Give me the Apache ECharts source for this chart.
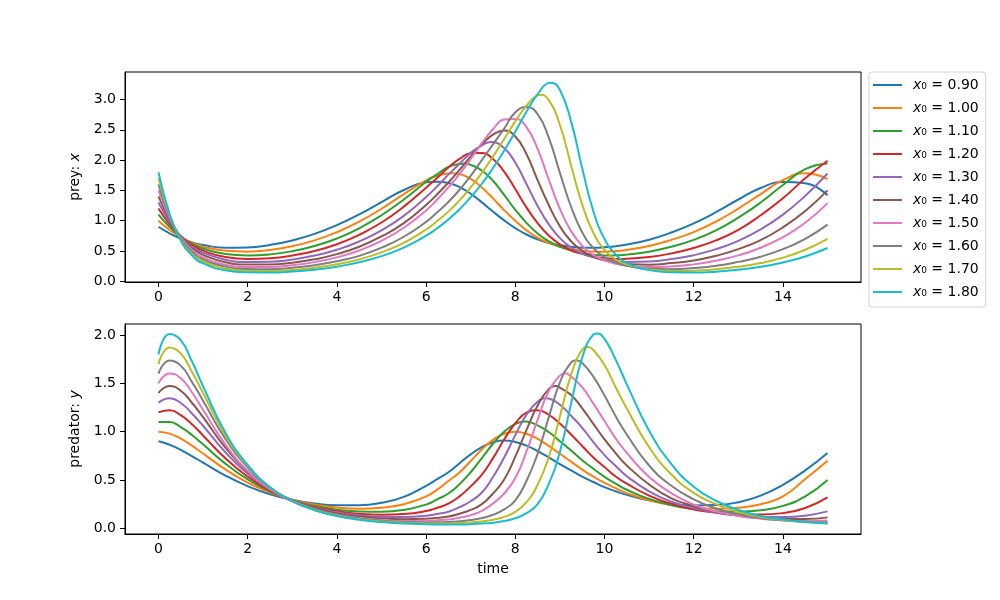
<!DOCTYPE html>
<html>
<head>
<meta charset="utf-8">
<title>Prey / predator</title>
<script src="https://cdn.jsdelivr.net/npm/echarts@6/dist/echarts.min.js"></script>
<style>
  body { margin: 0; background: #fff; }
  #chart { width: 1000px; height: 600px; }
</style>
</head>
<body>
<div id="chart"></div>
<script>
// sample times (denser around the peaks)
const times = [0, 0.25, 0.5, 0.75, 1, 1.5, 2, 2.5, 3, 3.5, 4, 4.5, 5, 5.5, 6, 6.25, 6.5, 6.75, 7, 7.25, 7.5, 7.75, 8,
  8.25, 8.5, 8.75, 9, 9.25, 9.5, 9.75, 10, 10.25, 10.5, 11, 11.5, 12, 12.5, 13, 13.5, 14, 14.5, 15];

const labels = ['0.90', '1.00', '1.10', '1.20', '1.30', '1.40', '1.50', '1.60', '1.70', '1.80'];
const colors = ['#1f77b4', '#ff7f0e', '#2ca02c', '#d62728', '#9467bd',
  '#8c564b', '#e377c2', '#7f7f7f', '#bcbd22', '#17becf'];

// prey x(t), one array per starting value
const prey090 = [0.900, 0.791, 0.705, 0.642, 0.598, 0.554, 0.558, 0.600, 0.674, 0.782, 0.927, 1.104, 1.306, 1.507, 1.635, 1.645, 1.624, 1.556, 1.445, 1.303, 1.151, 1.005, 0.877, 0.772, 0.692, 0.633, 0.593, 0.570, 0.554, 0.553, 0.561, 0.580, 0.607, 0.687, 0.805, 0.956, 1.140, 1.350, 1.540, 1.637, 1.617, 1.420];
const prey100 = [1.000, 0.847, 0.726, 0.636, 0.572, 0.502, 0.489, 0.516, 0.578, 0.675, 0.810, 0.983, 1.197, 1.440, 1.665, 1.745, 1.781, 1.769, 1.690, 1.549, 1.368, 1.175, 1.000, 0.842, 0.722, 0.633, 0.571, 0.533, 0.502, 0.492, 0.489, 0.500, 0.518, 0.584, 0.684, 0.812, 0.985, 1.200, 1.440, 1.670, 1.782, 1.685];
const prey110 = [1.100, 0.897, 0.738, 0.622, 0.540, 0.450, 0.426, 0.444, 0.497, 0.583, 0.707, 0.875, 1.090, 1.350, 1.642, 1.770, 1.890, 1.935, 1.922, 1.829, 1.660, 1.425, 1.180, 0.965, 0.790, 0.660, 0.567, 0.510, 0.462, 0.437, 0.427, 0.428, 0.440, 0.489, 0.570, 0.683, 0.840, 1.050, 1.300, 1.590, 1.850, 1.943];
const prey120 = [1.200, 0.941, 0.742, 0.601, 0.505, 0.400, 0.369, 0.380, 0.424, 0.500, 0.612, 0.766, 0.970, 1.232, 1.545, 1.710, 1.880, 2.020, 2.114, 2.117, 2.020, 1.810, 1.522, 1.220, 0.960, 0.755, 0.610, 0.510, 0.452, 0.402, 0.383, 0.369, 0.372, 0.400, 0.460, 0.550, 0.675, 0.850, 1.090, 1.370, 1.700, 1.990];
const prey130 = [1.300, 0.980, 0.741, 0.577, 0.474, 0.357, 0.319, 0.323, 0.360, 0.424, 0.520, 0.656, 0.840, 1.080, 1.390, 1.569, 1.760, 1.939, 2.120, 2.245, 2.298, 2.200, 1.960, 1.605, 1.244, 0.940, 0.712, 0.557, 0.457, 0.398, 0.350, 0.330, 0.318, 0.326, 0.366, 0.430, 0.530, 0.668, 0.855, 1.100, 1.410, 1.780];
const prey140 = [1.400, 1.019, 0.736, 0.549, 0.437, 0.314, 0.275, 0.276, 0.306, 0.362, 0.448, 0.570, 0.740, 0.960, 1.260, 1.438, 1.630, 1.838, 2.060, 2.260, 2.420, 2.489, 2.390, 2.100, 1.670, 1.260, 0.906, 0.660, 0.503, 0.406, 0.345, 0.303, 0.285, 0.274, 0.300, 0.342, 0.420, 0.530, 0.680, 0.890, 1.160, 1.500];
const prey150 = [1.500, 1.049, 0.724, 0.519, 0.394, 0.273, 0.235, 0.236, 0.264, 0.316, 0.395, 0.509, 0.667, 0.883, 1.170, 1.350, 1.550, 1.770, 2.020, 2.280, 2.510, 2.670, 2.681, 2.545, 2.186, 1.680, 1.197, 0.828, 0.586, 0.434, 0.350, 0.290, 0.259, 0.235, 0.244, 0.279, 0.340, 0.427, 0.554, 0.730, 0.965, 1.290];
const prey160 = [1.600, 1.075, 0.708, 0.487, 0.363, 0.242, 0.202, 0.200, 0.222, 0.264, 0.330, 0.420, 0.555, 0.735, 0.980, 1.140, 1.310, 1.510, 1.740, 2.000, 2.260, 2.520, 2.790, 2.878, 2.760, 2.370, 1.790, 1.230, 0.809, 0.549, 0.395, 0.310, 0.254, 0.205, 0.200, 0.218, 0.255, 0.320, 0.405, 0.530, 0.700, 0.935];
const prey170 = [1.700, 1.095, 0.688, 0.455, 0.330, 0.210, 0.173, 0.170, 0.188, 0.225, 0.281, 0.362, 0.478, 0.635, 0.855, 0.995, 1.150, 1.335, 1.550, 1.790, 2.060, 2.350, 2.640, 2.900, 3.070, 2.990, 2.580, 1.917, 1.266, 0.800, 0.519, 0.360, 0.279, 0.195, 0.171, 0.175, 0.198, 0.240, 0.300, 0.390, 0.520, 0.700];
const prey180 = [1.800, 1.113, 0.674, 0.428, 0.295, 0.181, 0.148, 0.145, 0.160, 0.192, 0.241, 0.313, 0.415, 0.556, 0.752, 0.875, 1.020, 1.190, 1.385, 1.610, 1.870, 2.155, 2.470, 2.800, 3.090, 3.275, 3.157, 2.640, 1.866, 1.158, 0.700, 0.444, 0.304, 0.184, 0.148, 0.145, 0.159, 0.190, 0.238, 0.310, 0.410, 0.550];

// predator y(t)
const pred090 = [0.900, 0.865, 0.812, 0.747, 0.679, 0.546, 0.436, 0.352, 0.295, 0.257, 0.239, 0.239, 0.264, 0.325, 0.440, 0.508, 0.580, 0.674, 0.765, 0.840, 0.890, 0.909, 0.894, 0.855, 0.799, 0.734, 0.665, 0.599, 0.535, 0.479, 0.426, 0.383, 0.346, 0.289, 0.253, 0.237, 0.240, 0.270, 0.338, 0.450, 0.600, 0.780];
const pred100 = [1.000, 0.980, 0.928, 0.856, 0.774, 0.610, 0.472, 0.370, 0.295, 0.245, 0.214, 0.203, 0.212, 0.248, 0.330, 0.400, 0.490, 0.578, 0.696, 0.815, 0.915, 0.979, 1.000, 0.979, 0.926, 0.853, 0.771, 0.690, 0.607, 0.535, 0.469, 0.415, 0.364, 0.290, 0.241, 0.214, 0.203, 0.212, 0.249, 0.330, 0.510, 0.700];
const pred110 = [1.100, 1.099, 1.048, 0.966, 0.869, 0.669, 0.506, 0.381, 0.290, 0.231, 0.192, 0.173, 0.171, 0.190, 0.245, 0.300, 0.360, 0.457, 0.580, 0.726, 0.875, 1.000, 1.080, 1.105, 1.066, 0.996, 0.900, 0.805, 0.705, 0.616, 0.532, 0.462, 0.399, 0.304, 0.239, 0.199, 0.176, 0.171, 0.186, 0.232, 0.330, 0.500];
const pred120 = [1.200, 1.221, 1.171, 1.077, 0.961, 0.724, 0.534, 0.390, 0.289, 0.220, 0.176, 0.150, 0.140, 0.147, 0.178, 0.213, 0.255, 0.330, 0.434, 0.555, 0.726, 0.918, 1.087, 1.196, 1.221, 1.175, 1.084, 0.970, 0.852, 0.733, 0.634, 0.536, 0.462, 0.339, 0.253, 0.195, 0.163, 0.145, 0.142, 0.157, 0.210, 0.320];
const pred130 = [1.300, 1.346, 1.297, 1.188, 1.061, 0.787, 0.565, 0.403, 0.290, 0.215, 0.165, 0.135, 0.119, 0.116, 0.130, 0.149, 0.172, 0.219, 0.280, 0.370, 0.530, 0.732, 0.964, 1.175, 1.310, 1.343, 1.279, 1.165, 1.040, 0.891, 0.757, 0.645, 0.539, 0.383, 0.275, 0.210, 0.162, 0.133, 0.118, 0.116, 0.131, 0.175];
const pred140 = [1.400, 1.473, 1.424, 1.299, 1.150, 0.836, 0.587, 0.410, 0.288, 0.207, 0.154, 0.121, 0.101, 0.094, 0.098, 0.109, 0.122, 0.151, 0.190, 0.250, 0.360, 0.505, 0.742, 1.016, 1.270, 1.440, 1.456, 1.379, 1.242, 1.080, 0.920, 0.777, 0.650, 0.453, 0.310, 0.230, 0.168, 0.130, 0.107, 0.095, 0.096, 0.113];
const pred150 = [1.500, 1.603, 1.553, 1.408, 1.226, 0.868, 0.594, 0.404, 0.277, 0.194, 0.140, 0.106, 0.086, 0.076, 0.077, 0.083, 0.091, 0.110, 0.135, 0.180, 0.257, 0.360, 0.520, 0.793, 1.121, 1.420, 1.580, 1.570, 1.460, 1.290, 1.110, 0.930, 0.780, 0.530, 0.363, 0.245, 0.173, 0.128, 0.099, 0.082, 0.076, 0.081];
const pred160 = [1.600, 1.736, 1.683, 1.515, 1.320, 0.925, 0.630, 0.420, 0.285, 0.196, 0.138, 0.102, 0.079, 0.066, 0.061, 0.063, 0.065, 0.073, 0.085, 0.106, 0.140, 0.196, 0.290, 0.490, 0.770, 1.150, 1.510, 1.715, 1.710, 1.569, 1.374, 1.160, 0.970, 0.650, 0.440, 0.300, 0.205, 0.144, 0.106, 0.082, 0.068, 0.062];
const pred170 = [1.700, 1.872, 1.810, 1.620, 1.400, 0.960, 0.645, 0.425, 0.284, 0.192, 0.132, 0.095, 0.071, 0.057, 0.050, 0.049, 0.050, 0.053, 0.059, 0.071, 0.088, 0.118, 0.170, 0.270, 0.450, 0.735, 1.158, 1.587, 1.850, 1.845, 1.690, 1.460, 1.240, 0.840, 0.556, 0.367, 0.250, 0.168, 0.117, 0.085, 0.065, 0.053];
const pred180 = [1.800, 2.010, 1.946, 1.728, 1.470, 0.990, 0.655, 0.425, 0.282, 0.187, 0.127, 0.089, 0.064, 0.050, 0.042, 0.040, 0.039, 0.040, 0.043, 0.049, 0.058, 0.075, 0.104, 0.157, 0.250, 0.460, 0.792, 1.288, 1.766, 2.005, 1.960, 1.745, 1.490, 1.010, 0.665, 0.430, 0.285, 0.190, 0.128, 0.090, 0.065, 0.050];

// crest of each curve between the samples (time, value)
const preyPeakTimes = [6.27, 6.57, 6.85, 7.16, 7.46, 7.74, 7.97, 8.27, 8.565, 8.80];
const preyPeakValues = [1.645, 1.783, 1.944, 2.118, 2.300, 2.489, 2.682, 2.878, 3.078, 3.279];
const predPeakTimes = [7.76, 7.99, 8.21, 8.47, 8.69, 8.92, 9.12, 9.37, 9.63, 9.83];
const predPeakValues = [0.909, 1.000, 1.106, 1.222, 1.346, 1.473, 1.604, 1.740, 1.876, 2.016];

const xTicks = [0, 2, 4, 6, 8, 10, 12, 14];
const preyTicks = [0, 0.5, 1, 1.5, 2, 2.5, 3];
const predTicks = [0, 0.5, 1, 1.5, 2];

const prey = [prey090, prey100, prey110, prey120, prey130, prey140, prey150, prey160, prey170, prey180];
const pred = [pred090, pred100, pred110, pred120, pred130, pred140, pred150, pred160, pred170, pred180];

const FONT = 'DejaVu Sans';
const txt = { fontFamily: FONT, fontSize: 14, color: '#000' };

// samples plus the crest point, unless a sample already sits on it
function points(vals, peakT, peakV) {
  const pts = times.map((t, j) => [t, vals[j]]);
  if (!times.some(t => Math.abs(t - peakT) <= 0.031)) {
    pts.push([peakT, peakV]);
    pts.sort((a, b) => a[0] - b[0]);
  }
  return pts;
}

function xAxis(grid, withName) {
  return {
    type: 'value', gridIndex: grid, min: -0.75, max: 15.75,
    axisLine: { show: true, onZero: false, lineStyle: { color: '#000', width: 1 } },
    axisTick: { show: true, length: 5, customValues: xTicks, lineStyle: { color: '#000', width: 1 } },
    axisLabel: Object.assign({ customValues: xTicks, margin: 8 }, txt),
    splitLine: { show: false },
    name: withName ? 'time' : '',
    nameLocation: 'middle', nameGap: 28,
    nameTextStyle: txt
  };
}

function yAxis(grid, min, max, ticks, label, sym) {
  return {
    type: 'value', gridIndex: grid, min: min, max: max,
    axisLine: { show: true, onZero: false, lineStyle: { color: '#000', width: 1 } },
    axisTick: { show: true, length: 5, customValues: ticks, lineStyle: { color: '#000', width: 1 } },
    axisLabel: Object.assign({ customValues: ticks, margin: 9, formatter: v => v.toFixed(1) }, txt),
    splitLine: { show: false },
    name: '{n|' + label + '}{i|' + sym + '}',
    nameLocation: 'middle', nameGap: 40, nameRotate: 90,
    nameTextStyle: {
      rich: {
        n: txt,
        i: Object.assign({ fontStyle: 'italic' }, txt)
      }
    }
  };
}

const series = [];
labels.forEach((lab, i) => {
  series.push({
    name: lab, type: 'line', xAxisIndex: 0, yAxisIndex: 0,
    data: points(prey[i], preyPeakTimes[i], preyPeakValues[i]),
    symbol: 'none', smooth: 0.5,
    lineStyle: { width: 2, color: colors[i] }, itemStyle: { color: colors[i] }
  });
});
labels.forEach((lab, i) => {
  series.push({
    name: lab, type: 'line', xAxisIndex: 1, yAxisIndex: 1,
    data: points(pred[i], predPeakTimes[i], predPeakValues[i]),
    symbol: 'none', smooth: 0.5,
    lineStyle: { width: 2, color: colors[i] }, itemStyle: { color: colors[i] }
  });
});

const chart = echarts.init(document.getElementById('chart'), null, { renderer: 'canvas' });
chart.setOption({
  animation: false,
  backgroundColor: '#fff',
  grid: [
    { left: 125, top: 72, width: 736, height: 210, show: true, borderColor: '#000', borderWidth: 1, backgroundColor: 'transparent' },
    { left: 125, top: 324, width: 736, height: 210, show: true, borderColor: '#000', borderWidth: 1, backgroundColor: 'transparent' }
  ],
  xAxis: [xAxis(0, false), xAxis(1, true)],
  yAxis: [
    yAxis(0, -0.012, 3.455, preyTicks, 'prey: ', 'x'),
    yAxis(1, -0.059, 2.114, predTicks, 'predator: ', 'y')
  ],
  legend: {
    data: labels,
    orient: 'vertical', left: 869, top: 72,
    icon: 'rect', itemWidth: 29, itemHeight: 2, itemGap: 7,
    padding: [5, 7, 7, 4],
    borderColor: '#d3d3d3', borderWidth: 1, borderRadius: 3,
    backgroundColor: '#fff',
    formatter: n => '{i|x}{n|\u2080 = ' + n + '}',
    textStyle: {
      fontFamily: FONT, fontSize: 14, color: '#000', lineHeight: 16,
      rich: {
        i: { fontFamily: FONT, fontSize: 14, fontStyle: 'italic', color: '#000', padding: [0, 0, 0, 6] },
        n: { fontFamily: FONT, fontSize: 14, color: '#000' }
      }
    }
  },
  series: series
});
</script>
</body>
</html>
